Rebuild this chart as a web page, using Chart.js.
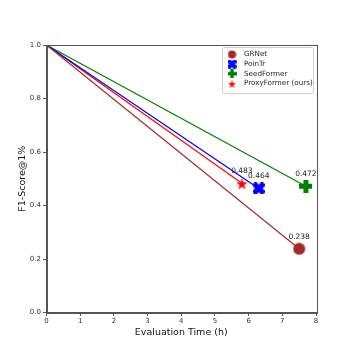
<!DOCTYPE html>
<html><head><meta charset="utf-8">
<script src="https://cdn.jsdelivr.net/npm/chart.js@4"></script>
<style>html,body{margin:0;padding:0;background:#fff}#wrap{width:354px;height:354px}</style>
</head><body><div id="wrap"><canvas id="c" width="354" height="354"></canvas></div>
<script>
const methods = ["GRNet", "PoinTr", "SeedFormer", "ProxyFormer (ours)"];
const evalTime = [7.5, 6.3, 7.7, 5.8];
const f1Score = [0.238, 0.464, 0.472, 0.483];
const valueLabels = ["0.238", "0.464", "0.472", "0.483"];
const startPoint = [0, 1.0];
const colors = ["#a52a2a", "#0000ff", "#008000", "#ff0000"];
const markers = ["circle", "X", "plus", "star"];
const xTicks = [0,1,2,3,4,5,6,7,8];
const yTicks = [0.0,0.2,0.4,0.6,0.8,1.0];

function makeMarker(kind, color, size) {
  const c = document.createElement('canvas');
  c.width = size; c.height = size;
  const g = c.getContext('2d');
  const h = size/2;
  g.fillStyle = color;
  g.beginPath();
  if (kind === 'circle') {
    g.arc(h, h, h-0.5, 0, Math.PI*2);
  } else if (kind === 'plus' || kind === 'X') {
    const a = size*0.5, t = size*0.19;
    const pts = [[-t,-a],[t,-a],[t,-t],[a,-t],[a,t],[t,t],[t,a],[-t,a],[-t,t],[-a,t],[-a,-t],[-t,-t]];
    const ang = kind === 'X' ? Math.PI/4 : 0;
    const sc = kind === 'X' ? 1.2 : 1;
    pts.forEach((p,i)=>{
      const x = (p[0]*Math.cos(ang)-p[1]*Math.sin(ang))*sc + h;
      const y = (p[0]*Math.sin(ang)+p[1]*Math.cos(ang))*sc + h;
      i? g.lineTo(x,y) : g.moveTo(x,y);
    });
  } else if (kind === 'star') {
    const R = h-0.3, r = R*0.4;
    for (let i=0;i<10;i++){
      const rr = i%2? r : R;
      const a = -Math.PI/2 + i*Math.PI/5;
      const x = h + rr*Math.cos(a), y = h + 1 + rr*Math.sin(a);
      i? g.lineTo(x,y) : g.moveTo(x,y);
    }
  }
  g.closePath();
  g.fill();
  return c;
}
const markerSizes = [13, 12, 13, 13];
const markerImgs = markers.map((m,i)=>makeMarker(m, colors[i], markerSizes[i]));
const legendImgs = markers.map((m,i)=>makeMarker(m, colors[i], 9));

const datasets = methods.map((name,i)=>({
  label: name,
  data: [{x:startPoint[0], y:startPoint[1]}, {x:evalTime[i], y:f1Score[i]}],
  showLine: true,
  borderColor: colors[i],
  borderWidth: 1.2,
  backgroundColor: colors[i],
  pointRadius: [0, 6],
  pointHoverRadius: [0, 6],
  pointStyle: ['circle', markerImgs[i]],
}));

const frame = {
  id: 'frame',
  beforeDraw(chart) {
    const g = chart.ctx;
    g.save(); g.fillStyle = '#fff'; g.fillRect(0,0,chart.width,chart.height); g.restore();
  },
  afterDatasetsDraw(chart) {
    const g = chart.ctx, a = chart.chartArea;
    const xs = chart.scales.x, ys = chart.scales.y;
    g.save();
    g.font = '7.5px "DejaVu Sans"';
    g.fillStyle = '#222';
    g.textAlign = 'center'; g.textBaseline = 'middle';
    methods.forEach((m,i)=>{
      g.fillText(valueLabels[i], xs.getPixelForValue(evalTime[i]), ys.getPixelForValue(f1Score[i]) - 12);
    });
    g.strokeStyle = '#555'; g.lineWidth = 1;
    g.strokeRect(Math.round(a.left)+0.5, Math.round(a.top)+0.5, Math.round(a.right-a.left), Math.round(a.bottom-a.top));
    const lx = 222, ly = 47, lw = 91, lh = 46;
    g.fillStyle = 'rgba(255,255,255,0.85)';
    g.strokeStyle = '#d0d0d0';
    g.beginPath();
    if (g.roundRect) g.roundRect(lx+0.5, ly+0.5, lw, lh, 2); else g.rect(lx+0.5, ly+0.5, lw, lh);
    g.fill(); g.stroke();
    g.font = '7.2px "DejaVu Sans"';
    g.fillStyle = '#222';
    g.textAlign = 'left'; g.textBaseline = 'middle';
    methods.forEach((m,i)=>{
      const yy = ly + 7.5 + i*9.6;
      g.drawImage(legendImgs[i], 232-4.5, yy-4.5);
      g.fillText(m, 244, yy);
    });
    g.restore();
  }
};

new Chart(document.getElementById('c'), {
  type: 'scatter',
  data: { datasets },
  options: {
    responsive: false,
    animation: false,
    devicePixelRatio: 1,
    layout: { padding: { left: 17, top: 45, right: 38, bottom: 16 } },
    plugins: { legend: { display: false }, tooltip: { enabled: false } },
    scales: {
      x: {
        type: 'linear', min: 0, max: 8,
        afterBuildTicks: s => { s.ticks = xTicks.map(v=>({value:v})); },
        afterFit: s => { s.height = 25.5; },
        ticks: { font: { family: 'DejaVu Sans', size: 7 }, color: '#333', padding: 1,
                 callback: v => String(v), maxRotation: 0 },
        grid: { drawOnChartArea: false, drawTicks: true, tickLength: 3.5, color: '#555' },
        border: { color: '#555' },
        title: { display: true, text: 'Evaluation Time (h)', font: { family: 'DejaVu Sans', size: 9.5 }, color: '#111', padding: { top: 1, bottom: 0 } }
      },
      y: {
        type: 'linear', min: 0, max: 1,
        afterBuildTicks: s => { s.ticks = yTicks.map(v=>({value:v})); },
        afterFit: s => { s.width = 29.5; },
        ticks: { font: { family: 'DejaVu Sans', size: 7 }, color: '#333', padding: 2,
                 callback: v => Number(v).toFixed(1) },
        grid: { drawOnChartArea: false, drawTicks: true, tickLength: 3.5, color: '#555' },
        border: { color: '#555' },
        title: { display: true, text: 'F1-Score@1%', font: { family: 'DejaVu Sans', size: 9.5 }, color: '#111', padding: { top: 0, bottom: 0 } }
      }
    }
  },
  plugins: [frame]
});
</script>
</body></html>
